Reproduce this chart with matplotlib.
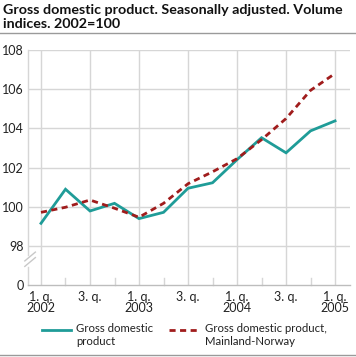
import matplotlib
matplotlib.use("Agg")
import matplotlib.pyplot as plt
from matplotlib.lines import Line2D

quarters = ["2002Q1", "2002Q2", "2002Q3", "2002Q4", "2003Q1", "2003Q2", "2003Q3",
            "2003Q4", "2004Q1", "2004Q2", "2004Q3", "2004Q4", "2005Q1"]
gdp = [99.15, 100.89, 99.78, 100.17, 99.39, 99.71, 100.94, 101.22, 102.4,
       103.52, 102.75, 103.87, 104.38]
mainland = [99.71, 99.97, 100.34, 99.92, 99.46, 100.17, 101.17, 101.78, 102.45,
            103.42, 104.5, 105.94, 106.8]
tick_labels = ["1. q.\n2002", "3. q.", "1. q.\n2003", "3. q.", "1. q.\n2004", "3. q.", "1. q.\n2005"]
y_ticks = [98, 100, 102, 104, 106, 108]
title = "Gross domestic product. Seasonally adjusted. Volume\nindices. 2002=100"
legend_labels = ["Gross domestic\nproduct", "Gross domestic product,\nMainland-Norway"]

plt.rcParams['font.family'] = ['Lato', 'DejaVu Sans']

W, H = 356, 357
fig = plt.figure(figsize=(W / 100, H / 100), dpi=100)

def fx(px):
    return px / W

def fy(py):
    return 1 - py / H

ax = fig.add_axes([fx(28), fy(285), fx(350) - fx(28), fy(50) - fy(285)])

x = list(range(len(quarters)))
teal = "#1f9c98"
red = "#a01c1c"
grid_c = "#d6d6d6"
dash = (0, (2.2, 1.6))

ax.set_xlim(-0.53, 12.61)
ax.set_ylim(96, 108)

for v in y_ticks:
    ax.axhline(v, color=grid_c, lw=1.0, zorder=1)
for i in range(0, len(quarters), 2):
    ax.axvline(i, color=grid_c, lw=1.0, zorder=1)
for i in range(1, len(quarters), 2):
    ax.plot([i, i], [96, 96.35], color=grid_c, lw=1.0, zorder=1, clip_on=False)

ax.plot(x, gdp, color=teal, lw=2.0, zorder=3, solid_joinstyle='miter')
ax.plot(x, mainland, color=red, lw=2.0, ls=dash, zorder=4)

for s in ["top", "right", "left"]:
    ax.spines[s].set_visible(False)
ax.spines["bottom"].set_color("#bdbdbd")
ax.spines["bottom"].set_linewidth(1.0)

# left axis line with break
ax.plot([-0.53, -0.53], [108, 97.55], color=grid_c, lw=1.0, clip_on=False, zorder=2)
ax.plot([-0.53, -0.53], [96.9, 96], color=grid_c, lw=1.0, clip_on=False, zorder=2)
for off in (0.0, 0.28):
    ax.plot([-0.66, -0.23], [96.95 + off, 97.4 + off], color="#c8c8c8", lw=1.0,
            clip_on=False, zorder=2)

ax.set_yticks([96] + y_ticks)
ax.set_yticklabels(["0"] + [str(v) for v in y_ticks])
ax.set_xticks(list(range(0, len(quarters), 2)))
ax.set_xticklabels(tick_labels, linespacing=0.95)
ax.tick_params(axis="both", length=0, labelsize=9, colors="#333333")
ax.tick_params(axis="y", pad=3)
ax.tick_params(axis="x", pad=4)
for t in ax.get_yticklabels() + ax.get_xticklabels():
    t.set_color("#222222")

fig.text(fx(3), fy(4), title, fontsize=10.3, fontweight="bold", va="top", ha="left",
         color="#111111", linespacing=1.15)
fig.add_artist(Line2D([0, 1], [fy(33), fy(33)], color="#9a9a9a", lw=1.0))
fig.add_artist(Line2D([0, 1], [fy(355), fy(355)], color="#9a9a9a", lw=1.0))

# legend drawn manually
fig.add_artist(Line2D([fx(42), fx(71)], [fy(330), fy(330)], color=teal, lw=2.0))
fig.text(fx(76), fy(323), legend_labels[0], fontsize=8.2, va="top", ha="left",
         color="#222222", linespacing=1.25)
fig.add_artist(Line2D([fx(169), fx(198)], [fy(330), fy(330)], color=red, lw=2.0, ls=dash))
fig.text(fx(205), fy(323), legend_labels[1], fontsize=8.2, va="top", ha="left",
         color="#222222", linespacing=1.25)

fig.savefig("out.png", dpi=100)
